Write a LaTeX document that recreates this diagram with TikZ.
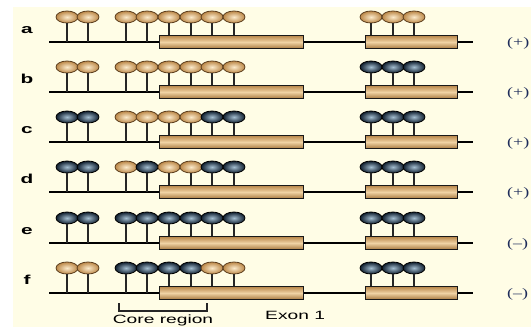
\documentclass[tikz,border=0pt]{standalone}
\usepackage{fontspec}
\usepackage{graphicx}
\setmainfont{Liberation Serif}
\setsansfont{Liberation Sans}
\usetikzlibrary{shapes.geometric}
\definecolor{cream}{HTML}{FFFDE6}
\definecolor{tanout}{HTML}{BC8848}
\definecolor{tanin}{HTML}{FBEACB}
\definecolor{tanedge}{HTML}{5E4020}
\definecolor{blout}{HTML}{0F1E2E}
\definecolor{blin}{HTML}{A3BDD0}
\definecolor{boxtop}{HTML}{B8864A}
\definecolor{boxmid}{HTML}{F0D3A4}
\definecolor{boxbot}{HTML}{A87A40}
\definecolor{signcol}{HTML}{1E2C5A}
\tikzset{
  head/.style={ellipse, minimum width=22pt, minimum height=12pt, inner sep=0pt, line width=0.8pt},
  headT/.style={head, draw=tanedge, inner color=tanin, outer color=tanout},
  headB/.style={head, draw=black, inner color=blin, outer color=blout},
  stem/.style={line width=1.5pt, draw=black!85},
  dnaline/.style={line width=2pt, draw=black},
  exon/.style={rectangle, draw=black!90, line width=1.3pt, top color=boxtop, bottom color=boxbot, middle color=boxmid, minimum height=13pt, inner sep=0pt, anchor=west},
  rowlab/.style={font=\fontsize{13}{15}\selectfont\sffamily\bfseries, inner sep=0pt, anchor=base},
  signlab/.style={font=\fontsize{13}{15}\selectfont, text=signcol, inner sep=0pt, anchor=west},
  caption/.style={font=\fontsize{12}{14}\selectfont\sffamily, inner sep=0pt},
  bracket/.style={line width=1.2pt, draw=black!85}
}
\newcommand\hscale[1]{\scalebox{1.6}[1]{#1}}
\newcommand\mrow[4]{%
  \coordinate (#1-l) at (49,#2);
  \coordinate (#1-r) at (473,#2);
  \draw[dnaline] (#1-l) -- (#1-r);
  \node[rowlab] (#1-lab) at (27,#2-9) {\hscale{#1}};
  \node[signlab] (#1-sign) at (507,#2+1.5) {\scalebox{1.38}[1]{#4}};
  \foreach \c [count=\i] in {#3} {
    \pgfmathsetmacro\hx{{67,88,126,147,169,191,212,234,371,393,414}[\i-1]}
    \coordinate (#1-s\i) at (\hx,#2);
    \node[head\c] (#1-h\i) at (\hx,#2-25) {};
    \draw[stem] (#1-s\i) -- (#1-h\i);
  }
  \node[exon, minimum width=144pt] (#1-ex1) at (159,#2) {};
  \node[exon, minimum width=92pt] (#1-ex2) at (365,#2) {};
}
\begin{document}
\begin{tikzpicture}[x=1pt,y=-1pt]
  \useasboundingbox (0,0) rectangle (531,327);
  \fill[white] (0,0) rectangle (531,327);
  \fill[cream] (13,7) rectangle (531,327);
  \mrow{a}{42}{T,T,T,T,T,T,T,T,T,T,T}{(+)}
  \mrow{b}{92}{T,T,T,T,T,T,T,T,B,B,B}{(+)}
  \mrow{c}{142}{B,B,T,T,T,T,B,B,B,B,B}{(+)}
  \mrow{d}{192}{B,B,T,B,T,T,B,B,B,B,B}{(+)}
  \mrow{e}{243}{B,B,B,B,B,B,B,B,B,B,B}{(–)}
  \mrow{f}{293}{T,T,B,B,B,B,T,T,B,B,B}{(–)}
  \coordinate (cr1) at (119,303);
  \coordinate (cr2) at (207,303);
  \draw[bracket] (cr1) -- ++(0,8) -| (cr2);
  \node[caption, anchor=base] (core) at (163,323.5) {\hscale{Core region}};
  \node[caption, anchor=west] (exon1) at (265,315) {\hscale{Exon 1}};
\end{tikzpicture}
\end{document}
